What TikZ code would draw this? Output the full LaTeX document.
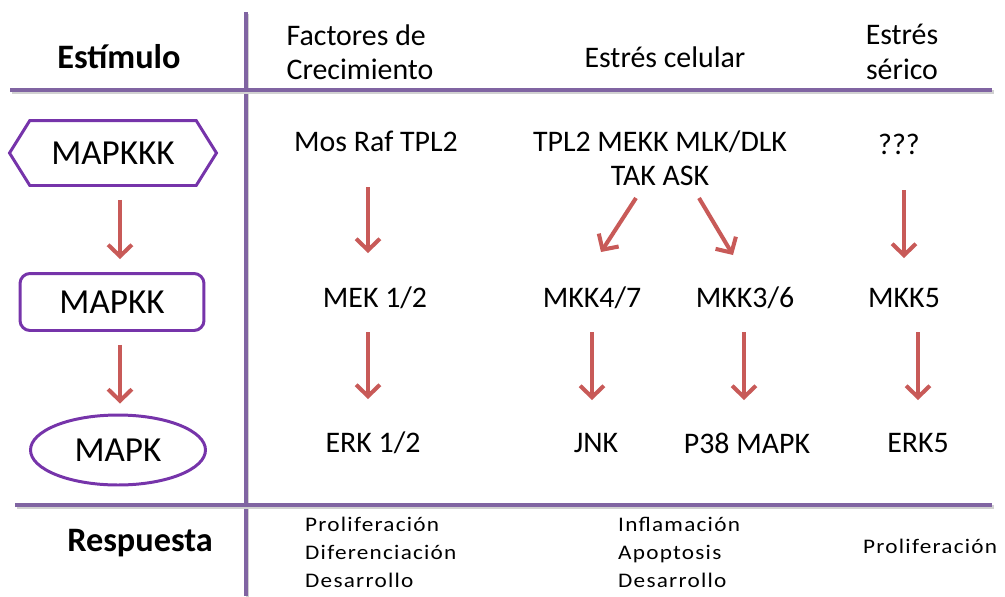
\documentclass[tikz,border=0pt]{standalone}
\usepackage{fontspec}
\setmainfont{Carlito}
\newfontfamily\spacedfont[LetterSpace=6,FakeStretch=1.12]{Carlito}
\usetikzlibrary{arrows.meta,shapes.symbols,shapes.geometric}
\definecolor{gridpurple}{RGB}{128,100,162}
\definecolor{boxpurple}{RGB}{118,52,170}
\definecolor{arrowred}{RGB}{200,90,88}

\begin{document}
\begin{tikzpicture}[x=0.02cm,y=-0.02cm]
		\tikzset{txt/.style = {font=\fontsize{17}{19.5}\selectfont, align=center}}
		\tikzset{head/.style = {font=\fontsize{19.5}{22}\selectfont\bfseries}}
		\tikzset{small/.style = {font=\spacedfont\fontsize{11.8}{15.9}\selectfont, align=left}}
		\tikzset{level/.style = {draw=boxpurple, line width=1.7pt, font=\fontsize{20}{22}\selectfont}}
		\tikzset{gridline/.style = {draw=gridpurple, line width=1.8pt,
			preaction={draw=black!18, line width=1.8pt, transform canvas={shift={(0.9pt,-1.1pt)}}}}}
		\tikzset{edge/.style = {draw=arrowred, line width=2.3pt, -{Straight Barb[length=6.5pt,width=13.5pt]}}}
		\useasboundingbox (0,0) rectangle (1005,596);
		% grid
		\draw[gridline] (246,12) -- (246,596);
		\draw[gridline] (10,90) -- (992,90);
		\draw[gridline] (15,505) -- (992,505);
		% headings
		\node[head] (estim) at (119,57) {Estímulo};
		\node[head] (resp) at (140,543) {Respuesta};
		\node[txt, align=left] (factores) at (360,52) {Factores de\\Crecimiento};
		\node[txt] (celular) at (665,57) {Estrés celular};
		\node[txt] (serico) at (902,52) {Estrés\\sérico};
		% levels
		\node[level, signal, signal to=west and east, signal pointer angle=116,
			minimum width=4.14cm, minimum height=1.3cm] (kkk) at (113,153) {MAPKKK};
		\node[level, rectangle, rounded corners=0.2cm,
			minimum width=3.68cm, minimum height=1.14cm] (kk) at (112,302) {MAPKK};
		\node[level, ellipse, inner sep=0pt,
			minimum width=3.5cm, minimum height=1.4cm] (k) at (118,450) {MAPK};
		% vertices
		\node[txt] (mos) at (376,141) {Mos Raf TPL2};
		\node[txt] (tak) at (660,158) {TPL2 MEKK MLK/DLK\\TAK ASK};
		\node[txt] (qqq) at (899,144) {???};
		\node[txt] (mek) at (375,298) {MEK 1/2};
		\node[txt] (mkk47) at (592,298) {MKK4/7};
		\node[txt] (mkk36) at (745,298) {MKK3/6};
		\node[txt] (mkk5) at (904,298) {MKK5};
		\node[txt] (erk12) at (373,443) {ERK 1/2};
		\node[txt] (jnk) at (596,443) {JNK};
		\node[txt] (p38) at (747,443) {P38 MAPK};
		\node[txt] (erk5) at (918,443) {ERK5};
		% responses
		\node[small, anchor=west] (resp1) at (299,552) {Proliferación\\Diferenciación\\Desarrollo};
		\node[small, anchor=west] (resp2) at (612,552) {Inflamación\\Apoptosis\\Desarrollo};
		\node[small, anchor=west] (resp3) at (857,546) {Proliferación};
		%edges
		\draw[edge] ([shift={(7,13)}]kkk.south) -- ([shift={(8,-13)}]kk.north);
		\draw[edge] ([shift={(8,13)}]kk.south) -- ([shift={(2,-10)}]k.north);
		\draw[edge] ([shift={(-8,46)}]mos.center) -- ([shift={(-7,-45)}]mek.center);
		\draw[edge] ([shift={(-7,34)}]mek.center) -- ([shift={(-5,-44)}]erk12.center);
		\draw[edge] ([shift={(-24,40)}]tak.center) -- ([shift={(9,-46)}]mkk47.center);
		\draw[edge] ([shift={(39,40)}]tak.center) -- ([shift={(-12,-43)}]mkk36.center);
		\draw[edge] ([shift={(5,46)}]qqq.center) -- ([shift={(0,-40)}]mkk5.center);
		\draw[edge] ([shift={(0,34)}]mkk47.center) -- ([shift={(-4,-43)}]jnk.center);
		\draw[edge] ([shift={(-1,34)}]mkk36.center) -- ([shift={(-3,-43)}]p38.center);
		\draw[edge] ([shift={(14,34)}]mkk5.center) -- ([shift={(0,-43)}]erk5.center);
\end{tikzpicture}
\end{document}
